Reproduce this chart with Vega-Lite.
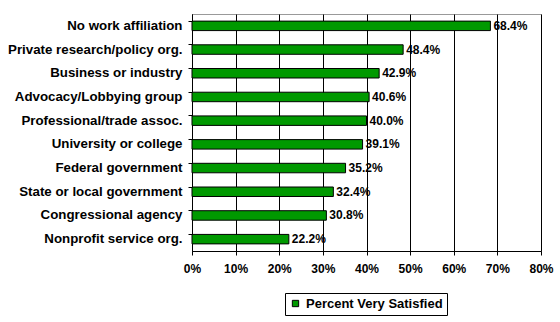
{
  "$schema": "https://vega.github.io/schema/vega-lite/v6.json",
  "autosize": {"type": "none"},
  "width": 349,
  "height": 237,
  "padding": {"left": 192, "top": 14, "right": 19, "bottom": 71},
  "background": "white",
  "config": {
    "view": {"stroke": "#999999", "strokeWidth": 1},
    "font": "Arial",
    "axis": {"labelFont": "Arial", "labelFontWeight": "bold", "labelFontSize": 12, "labelColor": "black", "domainColor": "black", "tickColor": "black"}
  },
  "data": {"values": [
    {"affiliation": "No work affiliation", "pct": 0.684, "series": "Percent Very Satisfied"},
    {"affiliation": "Private research/policy org.", "pct": 0.484, "series": "Percent Very Satisfied"},
    {"affiliation": "Business or industry", "pct": 0.429, "series": "Percent Very Satisfied"},
    {"affiliation": "Advocacy/Lobbying group", "pct": 0.406, "series": "Percent Very Satisfied"},
    {"affiliation": "Professional/trade assoc.", "pct": 0.400, "series": "Percent Very Satisfied"},
    {"affiliation": "University or college", "pct": 0.391, "series": "Percent Very Satisfied"},
    {"affiliation": "Federal government", "pct": 0.352, "series": "Percent Very Satisfied"},
    {"affiliation": "State or local government", "pct": 0.324, "series": "Percent Very Satisfied"},
    {"affiliation": "Congressional agency", "pct": 0.308, "series": "Percent Very Satisfied"},
    {"affiliation": "Nonprofit service org.", "pct": 0.222, "series": "Percent Very Satisfied"}
  ]},
  "encoding": {
    "y": {"field": "affiliation", "type": "nominal", "sort": null,
      "scale": {"paddingInner": 0.6, "paddingOuter": 0.3},
      "axis": {"title": null, "bandPosition": 0, "tickSize": 4, "labelPadding": 6, "labelFontSize": 13.3, "domainWidth": 1, "ticks": true}},
    "x": {"field": "pct", "type": "quantitative",
      "scale": {"domain": [0, 0.8], "nice": false},
      "axis": {"title": null, "values": [0,0.1,0.2,0.3,0.4,0.5,0.6,0.7,0.8], "format": ".0%", "grid": true, "gridColor": "black", "gridOpacity": 1, "tickSize": 4, "labelPadding": 8, "labelFlush": false}}
  },
  "layer": [
    {
      "mark": {"type": "bar", "stroke": "black", "strokeWidth": 1},
      "encoding": {
        "color": {"field": "series", "type": "nominal",
          "scale": {"range": ["#009900"]},
          "legend": {"title": null, "orient": "none", "legendX": 93, "legendY": 279, "symbolType": "square", "symbolSize": 40, "symbolStrokeColor": "black", "symbolStrokeWidth": 1, "labelFont": "Arial", "labelFontWeight": "bold", "labelFontSize": 13, "labelColor": "black", "strokeColor": "black", "fillColor": "white", "padding": 4, "labelOffset": 4}}
      }
    },
    {
      "mark": {"type": "text", "align": "left", "baseline": "middle", "dx": 3, "font": "Arial", "fontWeight": "bold", "fontSize": 12, "color": "black"},
      "encoding": {"text": {"field": "pct", "type": "quantitative", "format": ".1%"}}
    }
  ]
}
